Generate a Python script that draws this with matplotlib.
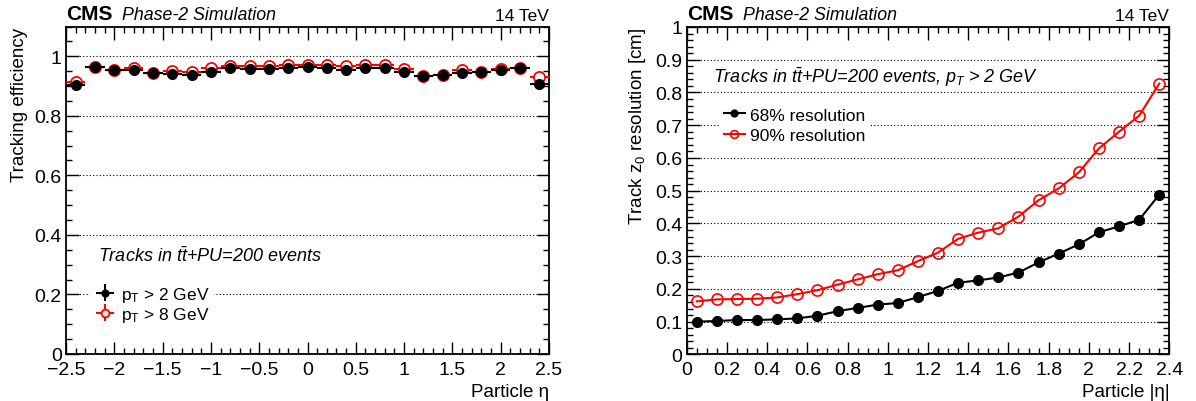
import numpy as np
import matplotlib
matplotlib.use("Agg")
import matplotlib.pyplot as plt
from matplotlib.ticker import MultipleLocator

plt.rcParams['font.family'] = ['Liberation Sans', 'DejaVu Sans']
plt.rcParams['mathtext.fontset'] = 'custom'
plt.rcParams['mathtext.rm'] = 'Liberation Sans'
plt.rcParams['mathtext.it'] = 'Liberation Sans:italic'

# --- left panel: efficiency vs eta
eta_bins = [-2.4, -2.2, -2.0, -1.8, -1.6, -1.4, -1.2, -1.0, -0.8, -0.6, -0.4, -0.2, 0.0,
            0.2, 0.4, 0.6, 0.8, 1.0, 1.2, 1.4, 1.6, 1.8, 2.0, 2.2, 2.4]
eff_pt2 = [0.905, 0.963, 0.953, 0.954, 0.944, 0.941, 0.937, 0.946, 0.961, 0.957, 0.957, 0.961, 0.963,
           0.961, 0.955, 0.959, 0.959, 0.946, 0.933, 0.937, 0.945, 0.946, 0.954, 0.959, 0.906]
eff_pt8 = [0.913, 0.963, 0.953, 0.959, 0.944, 0.950, 0.947, 0.960, 0.969, 0.966, 0.969, 0.970, 0.972,
           0.971, 0.968, 0.972, 0.971, 0.957, 0.933, 0.936, 0.953, 0.946, 0.957, 0.960, 0.930]

# --- right panel: z0 resolution vs |eta|
abseta = [0.05, 0.15, 0.25, 0.35, 0.45, 0.55, 0.65, 0.75, 0.85, 0.95, 1.05, 1.15,
          1.25, 1.35, 1.45, 1.55, 1.65, 1.75, 1.85, 1.95, 2.05, 2.15, 2.25, 2.35]
res68 = [0.100, 0.102, 0.105, 0.105, 0.107, 0.110, 0.118, 0.132, 0.142, 0.152, 0.157, 0.175,
         0.194, 0.219, 0.226, 0.235, 0.250, 0.281, 0.308, 0.336, 0.373, 0.391, 0.411, 0.488]
res90 = [0.162, 0.168, 0.169, 0.170, 0.174, 0.184, 0.196, 0.213, 0.229, 0.245, 0.257, 0.285,
         0.311, 0.353, 0.372, 0.385, 0.421, 0.471, 0.507, 0.556, 0.629, 0.680, 0.729, 0.827]

W, H = 1196, 402
fig = plt.figure(figsize=(W / 100, H / 100), dpi=100)
ax1 = fig.add_axes([66 / W, 47 / H, 483 / W, 327.5 / H])
ax2 = fig.add_axes([686.7 / W, 46.6 / H, 482.6 / W, 327.4 / H])


def root_style(ax, xmaj, xmin, ymaj, ymin):
    ax.xaxis.set_major_locator(MultipleLocator(xmaj))
    ax.xaxis.set_minor_locator(MultipleLocator(xmin))
    ax.yaxis.set_major_locator(MultipleLocator(ymaj))
    ax.yaxis.set_minor_locator(MultipleLocator(ymin))
    ax.tick_params(which='both', direction='in', top=True, right=True, labelsize=14, width=1)
    ax.tick_params(which='major', length=9)
    ax.tick_params(which='minor', length=4.5)
    ax.tick_params(axis='x', pad=5)
    ax.tick_params(axis='y', pad=3)
    for s in ax.spines.values():
        s.set_linewidth(1.3)
    ax.grid(axis='y', which='major', color='black', linestyle=(0, (1, 2)), linewidth=0.8)
    ax.set_axisbelow(True)


def header(ax):
    ax.text(0.0, 1.012, "CMS", transform=ax.transAxes, fontsize=15, fontweight='bold', va='bottom')
    ax.text(0.116, 1.012, "Phase-2 Simulation", transform=ax.transAxes, fontsize=12.8,
            style='italic', va='bottom')
    ax.text(1.0, 1.012, "14 TeV", transform=ax.transAxes, fontsize=12.5, ha='right', va='bottom')


def fmt(v, pos):
    return ("%g" % v).replace('-', '\u2212')


# left
root_style(ax1, 0.5, 0.1, 0.2, 0.05)
ax1.set_xlim(-2.5, 2.5)
ax1.set_ylim(0, 1.1)
ax1.xaxis.set_major_formatter(fmt)
ax1.yaxis.set_major_formatter(fmt)
zeros = np.zeros(len(eta_bins))
h8 = ax1.errorbar(eta_bins, eff_pt8, xerr=0.1, yerr=zeros, fmt='o', color='red', mfc='white',
                  mec='red', ms=8, mew=1.3, elinewidth=1.5, capsize=0, zorder=3)
h2 = ax1.errorbar(eta_bins, eff_pt2, xerr=0.1, yerr=zeros, fmt='o', color='black', ms=7,
                  elinewidth=1.5, capsize=0, zorder=4)
ax1.set_xlabel("Particle \u03b7", loc='right', fontsize=13.5)
ax1.set_ylabel("Tracking efficiency", loc='top', fontsize=13.5)
ax1.yaxis.set_label_coords(-0.078, 1.0)
ax1.xaxis.set_label_coords(1.0, -0.088)
ax1.text(0.066, 0.300, r"Tracks in $t\bar{t}$+PU=200 events", transform=ax1.transAxes,
         fontsize=13, style='italic', va='center')
leg1 = ax1.legend([h2, h8], [r"p$_\mathrm{T}$ > 2 GeV", r"p$_\mathrm{T}$ > 8 GeV"],
                  loc='upper left', bbox_to_anchor=(0.05, 0.222), frameon=True, framealpha=1,
                  edgecolor='none', fontsize=12.5, handlelength=1.3, handletextpad=0.3,
                  labelspacing=0.05, borderpad=0.2, markerscale=0.7, borderaxespad=0)
leg1.get_frame().set_linewidth(0)

# right
root_style(ax2, 0.2, 0.05, 0.1, 0.02)
ax2.set_xlim(0, 2.4)
ax2.set_ylim(0, 1.0)
ax2.xaxis.set_major_formatter(fmt)
ax2.yaxis.set_major_formatter(fmt)
l68, = ax2.plot(abseta, res68, '-o', color='black', ms=7, lw=1.5, zorder=3)
l90, = ax2.plot(abseta, res90, '-o', color='red', mfc='none', mec='red', ms=8, mew=1.2, lw=1.5, zorder=3)
ax2.set_xlabel("Particle |\u03b7|", loc='right', fontsize=13.5)
ax2.set_ylabel(r"Track z$_0$ resolution [cm]", loc='top', fontsize=13.5)
ax2.yaxis.set_label_coords(-0.08, 1.0)
ax2.xaxis.set_label_coords(1.0, -0.088)
ax2.text(0.054, 0.850, r"Tracks in $t\bar{t}$+PU=200 events, $p_T$ > 2 GeV", transform=ax2.transAxes,
         fontsize=13, style='italic', va='center')
leg2 = ax2.legend([l68, l90], ["68% resolution", "90% resolution"],
                  loc='upper left', bbox_to_anchor=(0.07, 0.765), frameon=True, framealpha=1,
                  edgecolor='none', fontsize=12.5, handlelength=1.2, handletextpad=0.3,
                  labelspacing=0.3, borderpad=0.2, markerscale=0.7, borderaxespad=0)
leg2.get_frame().set_linewidth(0)

header(ax1)
header(ax2)

fig.savefig("out.png", dpi=100)
